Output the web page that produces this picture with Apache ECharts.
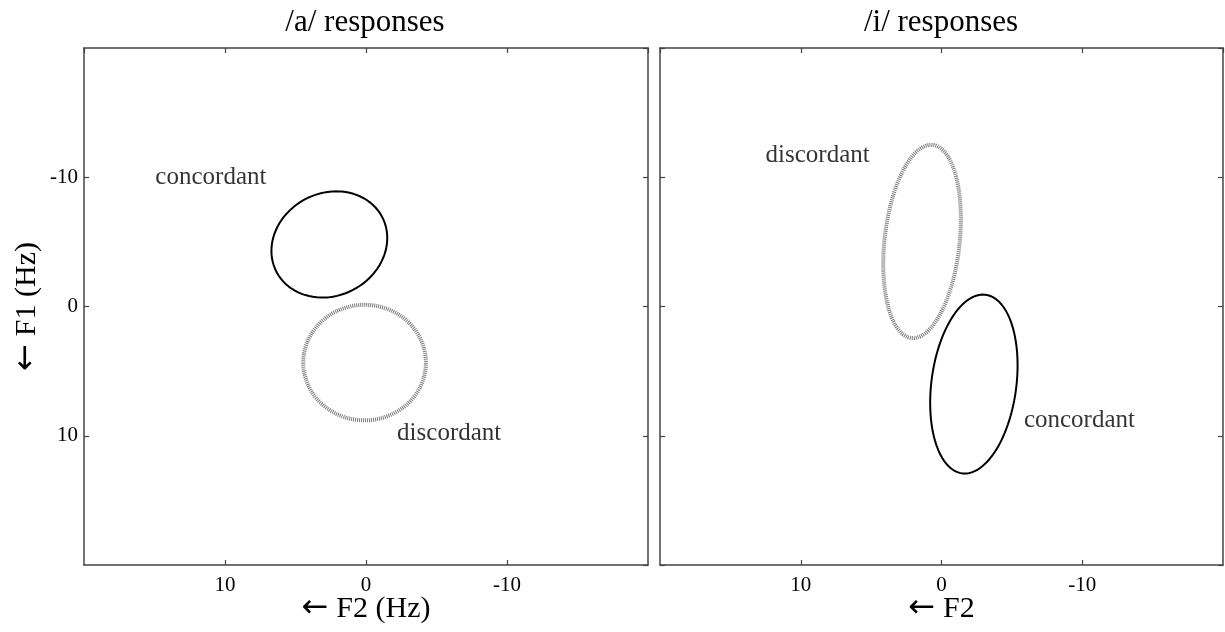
<!DOCTYPE html>
<html>
<head>
<meta charset="utf-8">
<script src="https://cdn.jsdelivr.net/npm/echarts@6/dist/echarts.min.js"></script>
<style>
  html, body { margin: 0; padding: 0; background: #fff; }
  #chart { width: 1225px; height: 632px; }
</style>
</head>
<body>
<div id="chart"></div>
<script>
// Panels
const panelTitles = ['/a/ responses', '/i/ responses'];
const xAxisNames = ['F2 (Hz)', 'F2'];
const yAxisName = 'F1 (Hz)';

// Axis range / ticks (both axes run from -20 to 20, reversed)
const axisMin = -20;
const axisMax = 20;
const tickStep = 10;

// Ellipses, one entry per panel: centre, semi-axes, rotation (deg) in data units
const concordantCx = [2.6, -2.3];
const concordantCy = [-4.8, 6.0];
const concordantA = [4.35, 6.96];
const concordantB = [3.85, 3.02];
const concordantAngle = [45, 83.4];

const discordantCx = [0.1, 1.38];
const discordantCy = [4.34, -5.03];
const discordantA = [4.35, 7.51];
const discordantB = [4.47, 2.67];
const discordantAngle = [0, 84.4];

// Text annotations per panel
const labelText = [['concordant', 'discordant'], ['discordant', 'concordant']];
const labelX = [[11.0, -5.9], [8.8, -9.8]];
const labelY = [[-10.0, 9.8], [-11.7, 8.8]];

const FONT = '"Liberation Serif", "DejaVu Serif", serif';

// outline of an ellipse from its parameters
function ellipse(cx, cy, a, b, deg) {
    const th = deg * Math.PI / 180;
    const pts = [];
    for (let i = 0; i <= 180; i++) {
        const t = (i / 180) * 2 * Math.PI;
        const x = cx + a * Math.cos(t) * Math.cos(th) - b * Math.sin(t) * Math.sin(th);
        const y = cy + a * Math.cos(t) * Math.sin(th) + b * Math.sin(t) * Math.cos(th);
        pts.push([x, y]);
    }
    return pts;
}

const chart = echarts.init(document.getElementById('chart'));

const grids = [
    { left: 84, right: 577, top: 48, bottom: 67, outerBoundsMode: 'none' },
    { left: 660, right: 2, top: 48, bottom: 67, outerBoundsMode: 'none' },
];

const lineCol = '#444';
// the arrow glyph is drawn in a sans font so it comes out long, like the original
const nameRich = {
    arr: { fontFamily: '"DejaVu Sans", sans-serif', fontSize: 32, color: '#000', padding: [0, 8, 0, 0] },
};
const xAxes = [];
const yAxes = [];
const series = [];

grids.forEach((g, p) => {
    const base = {
        type: 'value',
        gridIndex: p,
        min: axisMin,
        max: axisMax,
        interval: tickStep,
        inverse: true,
        splitLine: { show: false },
        axisLine: { show: true, onZero: false, lineStyle: { color: lineCol, width: 1.5 } },
        axisTick: { show: true, inside: true, length: 5, lineStyle: { color: lineCol, width: 1.2 } },
    };
    xAxes.push({
        ...base,
        position: 'bottom',
        name: '{arr|\u2190}' + xAxisNames[p],
        nameLocation: 'middle',
        nameGap: 28,
        nameMoveOverlap: false,
        nameTextStyle: { fontFamily: FONT, fontSize: 30, color: '#000', verticalAlign: 'top', rich: nameRich },
        axisLabel: {
            show: true, showMinLabel: false, showMaxLabel: false,
            margin: 10, fontFamily: FONT, fontSize: 21, color: '#000'
        },
    });
    xAxes.push({ ...base, position: 'top', axisLabel: { show: false } });
    yAxes.push({
        ...base,
        position: 'left',
        name: p === 0 ? '{arr|\u2190}' + yAxisName : '',
        nameLocation: 'middle',
        nameRotate: 90,
        nameGap: 41,
        nameMoveOverlap: false,
        nameTextStyle: { fontFamily: FONT, fontSize: 30, color: '#000', rich: nameRich },
        axisLabel: {
            show: p === 0, showMinLabel: false, showMaxLabel: false,
            margin: 6, fontFamily: FONT, fontSize: 21, color: '#000'
        },
    });
    yAxes.push({ ...base, position: 'right', axisLabel: { show: false } });

    series.push({
        type: 'line',
        xAxisIndex: p * 2,
        yAxisIndex: p * 2,
        showSymbol: false,
        silent: true,
        data: ellipse(concordantCx[p], concordantCy[p], concordantA[p], concordantB[p], concordantAngle[p]),
        lineStyle: { color: '#000', width: 2 },
    });
    series.push({
        type: 'line',
        xAxisIndex: p * 2,
        yAxisIndex: p * 2,
        showSymbol: false,
        silent: true,
        data: ellipse(discordantCx[p], discordantCy[p], discordantA[p], discordantB[p], discordantAngle[p]),
        lineStyle: { color: '#7a7a7a', width: 4, type: [1, 1] },
    });
    series.push({
        type: 'scatter',
        xAxisIndex: p * 2,
        yAxisIndex: p * 2,
        symbolSize: 0,
        silent: true,
        data: labelText[p].map((t, i) => ({ value: [labelX[p][i], labelY[p][i]], name: t })),
        label: {
            show: true,
            position: 'inside',
            formatter: (d) => d.name,
            fontFamily: FONT,
            fontSize: 25,
            color: '#000',
        },
    });
});

const option = {
    backgroundColor: '#fff',
    animation: false,
    title: panelTitles.map((t, p) => ({
        text: t,
        left: p === 0 ? 365 : 941,
        textAlign: 'center',
        top: 7,
        padding: 0,
        textStyle: { fontFamily: FONT, fontSize: 31, fontWeight: 'normal', color: '#000' },
    })),
    grid: grids,
    xAxis: xAxes,
    yAxis: yAxes,
    series: series,
};

chart.setOption(option);
</script>
</body>
</html>
